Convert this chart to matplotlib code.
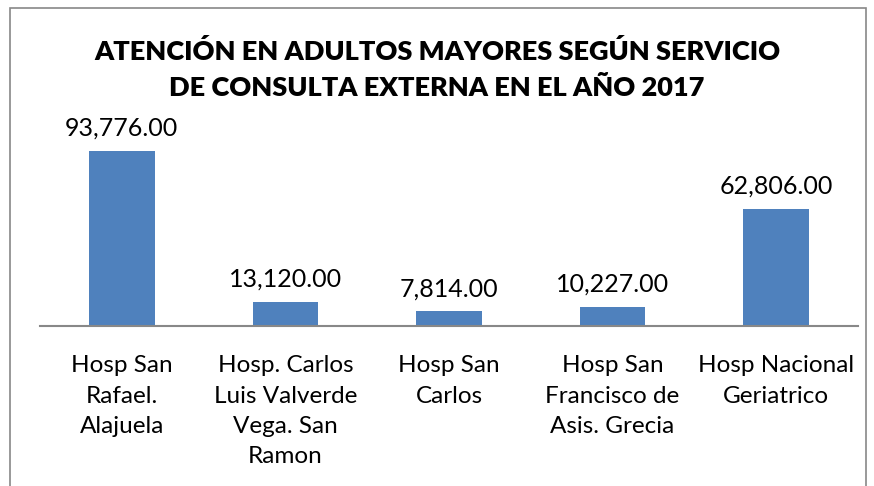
import matplotlib.pyplot as plt
from matplotlib.patches import Rectangle

hospitales = ['Hosp San\nRafael.\nAlajuela',
              'Hosp. Carlos\nLuis Valverde\nVega. San\nRamon',
              'Hosp San\nCarlos',
              'Hosp San\nFrancisco de\nAsis. Grecia',
              'Hosp Nacional\nGeriatrico']
atenciones = [93776, 13120, 7814, 10227, 62806]

plt.rcParams['font.family'] = ['Lato', 'DejaVu Sans']

fig = plt.figure(figsize=(8.74, 4.86), dpi=100)
ax = fig.add_axes([40/874, 1-326/486, 818/874, 186.6/486])

x = range(len(atenciones))
ax.bar(x, atenciones, width=0.4, color='#4F81BD')
ax.set_xlim(-0.5, len(atenciones)-0.5)
ax.set_ylim(0, 100000)

for i, v in zip(x, atenciones):
    ax.annotate(f'{v:,.2f}', (i, v), xytext=(0, 8), textcoords='offset points',
                ha='center', va='bottom', fontsize=18)

ax.set_xticks(list(x))
ax.set_xticklabels(hospitales, fontsize=17.5, linespacing=1.55)
ax.tick_params(axis='x', length=0, pad=21)
ax.set_yticks([])
for s in ['top', 'left', 'right']:
    ax.spines[s].set_visible(False)
ax.spines['bottom'].set_color('#888888')
ax.spines['bottom'].set_linewidth(1.5)

fig.text(0.5, 1-70/486, 'ATENCIÓN EN ADULTOS MAYORES SEGÚN SERVICIO\nDE CONSULTA EXTERNA EN EL AÑO 2017',
         ha='center', va='center', fontsize=19.5, fontweight='heavy', linespacing=1.6)

fig.patches.append(Rectangle((10/874, -0.1), 856/874, 1.1-8/486,
                             transform=fig.transFigure, fill=False,
                             edgecolor='#888888', linewidth=1.2))

fig.savefig('out.png', dpi=100)
